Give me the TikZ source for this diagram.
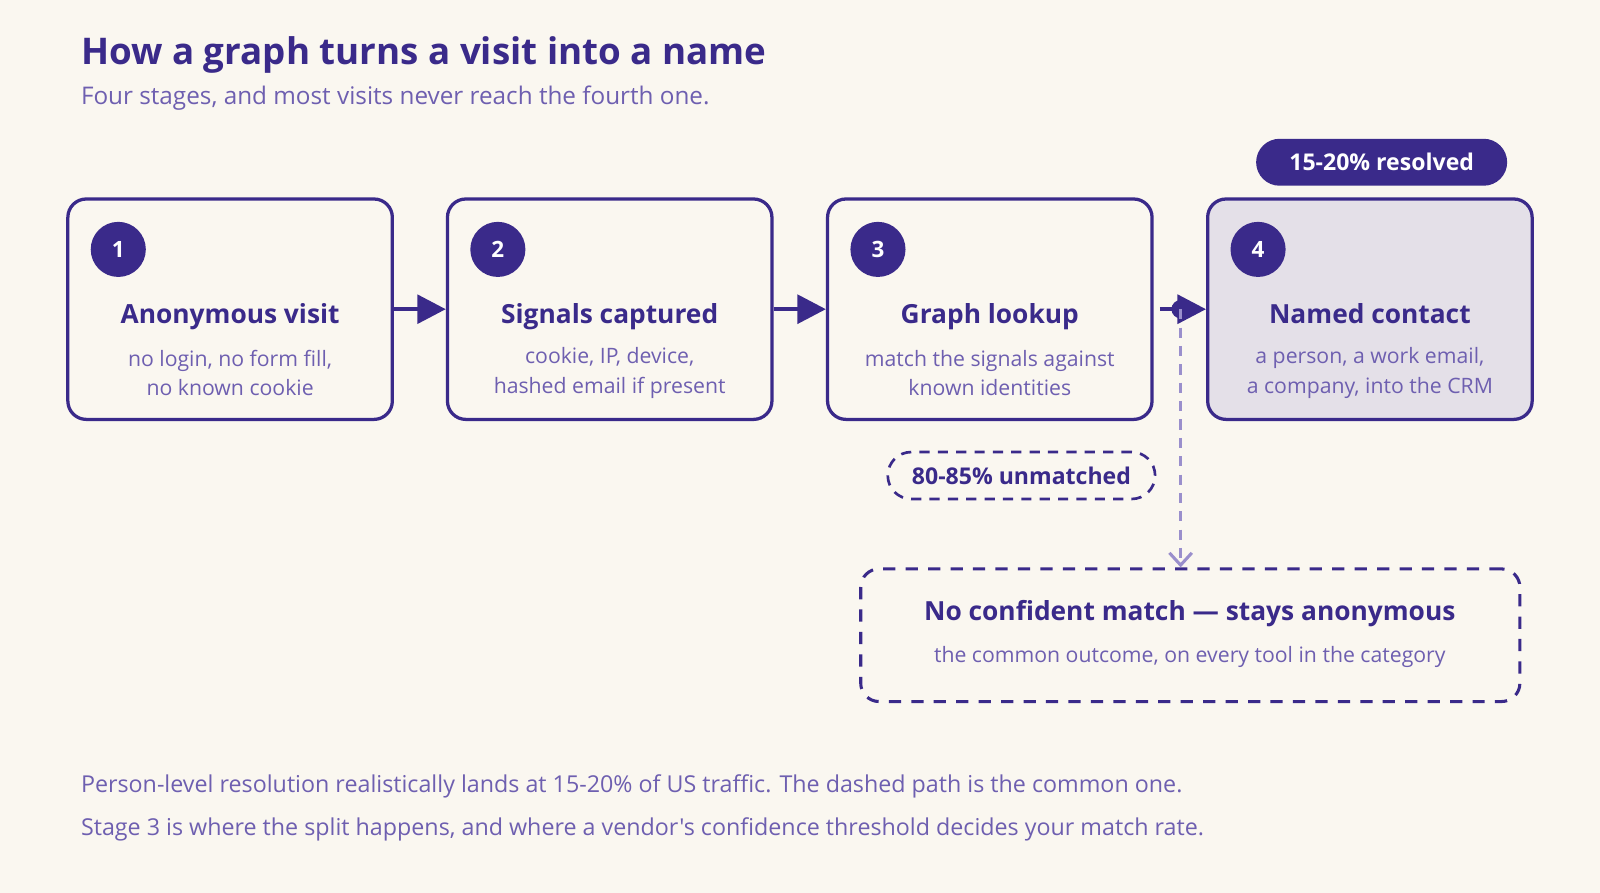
\documentclass[tikz,border=0pt]{standalone}
\usepackage{fontspec}
\setmainfont{Open Sans}[Ligatures=TeXOff]
\usetikzlibrary{arrows.meta,positioning,calc}
\definecolor{ink}{HTML}{3A2A8A}
\definecolor{soft}{HTML}{6E5FB0}
\definecolor{pale}{HTML}{9A8FCC}
\definecolor{paper}{HTML}{FAF7F0}
\definecolor{shade}{HTML}{E4E0E8}
\begin{document}
\begin{tikzpicture}[
  x=0.5pt, y=-0.5pt,
  stage/.style={rectangle, draw=ink, line width=1.6pt, rounded corners=9pt,
    minimum width=159pt, minimum height=108pt, fill=paper},
  badge/.style={circle, fill=ink, minimum size=27pt, inner sep=0pt,
    text=white, font=\bfseries\fontsize{11}{12}\selectfont},
  head/.style={text=ink, font=\bfseries\fontsize{12.9}{15}\selectfont},
  note/.style={text=soft, align=center, font=\fontsize{10.4}{14.5}\selectfont},
  arrow/.style={-{Triangle[length=14pt,width=14pt]}, draw=ink, line width=2.2pt},
  pill/.style={rectangle, rounded corners=11.5pt, minimum width=123pt,
    minimum height=23pt, font=\bfseries\fontsize{11.3}{12}\selectfont},
  line/.style={anchor=base west, inner sep=0pt, text=soft, font=\fontsize{11.4}{13}\selectfont},
]
  \fill[paper] (0,0) rectangle (1568,875);
  \node[anchor=base west, inner sep=0pt, text=ink, font=\bfseries\fontsize{18}{22}\selectfont] (title) at (79,63) {How a graph turns a visit into a name};
  \node[line, font=\fontsize{11.9}{13}\selectfont] (sub) at (79,102) {Four stages, and most visits never reach the fourth one.};

  % stages
  \node[stage] (s1) at (225.5,303) {};
  \node[stage] (s2) at (597.5,303) {};
  \node[stage] (s3) at (970,303) {};
  \node[stage, fill=shade] (s4) at (1342.5,303) {};
  \foreach \i/\h/\a/\b in {1/Anonymous visit/{no login, no form fill,}/{no known cookie},
      2/Signals captured/{cookie, IP, device,}/{hashed email if present},
      3/Graph lookup/{match the signals against}/{known identities},
      4/Named contact/{a person, a work email,}/{a company, into the CRM}} {
    \node[badge] (b\i) at ($(s\i.north west)+(51,51)$) {\i};
    \node[head, anchor=base] (h\i) at ($(s\i.north)+(0,124)$) {\h};
    \node[note] (n\i) at ($(s\i.north)+(0,172)$) {\a\\\b};
  }

  \draw[arrow] (s1) -- (s2);
  \draw[arrow] (s2) -- (s3);
  \coordinate (split) at (1157,303);
  \draw[arrow] ($(s3.east)+(6,0)$) -- (s4);
  \fill[ink] (split) circle (4.5pt);

  \node[pill, fill=ink, text=white] (res) at (1354,159) {15-20\% resolved};
  \node[pill, draw=ink, line width=1.3pt, text=ink, minimum width=131pt,
    dash pattern=on 5pt off 4pt] (unm) at (1001,466) {80-85\% unmatched};

  \node[rectangle, draw=ink, line width=1.5pt, dash pattern=on 6pt off 5pt,
    rounded corners=9pt, minimum width=323pt, minimum height=65pt] (anon) at (1166.5,622.5) {};
  \node[head] (ah) at (1166,601) {No confident match — stays anonymous};
  \node[note] (an) at (1166,644) {the common outcome, on every tool in the category};
  \draw[pale, line width=1.5pt, dash pattern=on 5pt off 4pt, -{Straight Barb[length=6pt,width=11pt,line width=1.5pt]}]
    (split) -- (split |- anon.north);

  \node[line] (f1) at (79,777) {Person-level resolution realistically lands at 15-20\% of US traffic. The dashed path is the common one.};
  \node[line] (f2) at (79,819) {Stage 3 is where the split happens, and where a vendor's confidence threshold decides your match rate.};
\end{tikzpicture}
\end{document}
